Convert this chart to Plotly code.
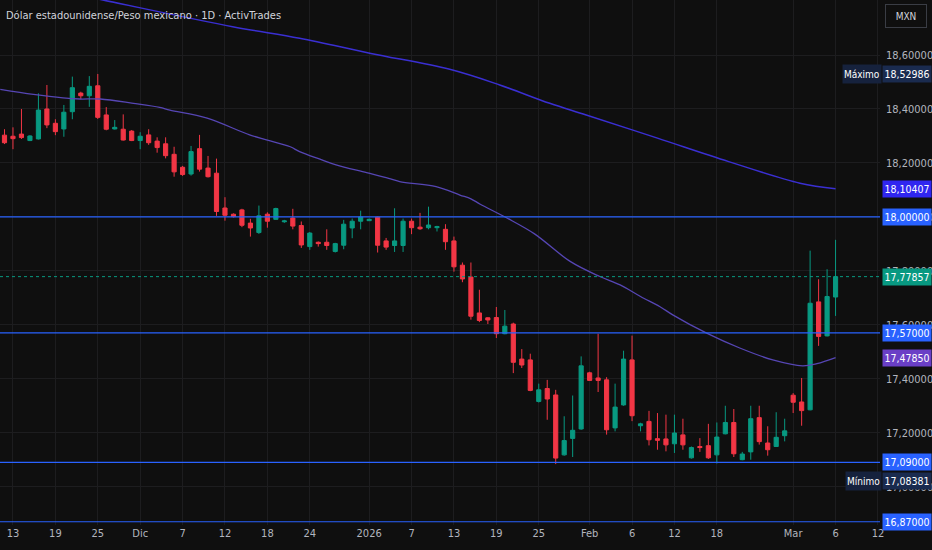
import plotly.graph_objects as go

# daily bars (Sun-Fri), index 0 = 12 Nov 2025, index 98 = 6 Mar 2026
bar_open = [18.303, 18.299, 18.307, 18.283, 18.289, 18.400, 18.347, 18.326, 18.390, 18.459,
            18.449, 18.486, 18.378, 18.326, 18.325, 18.318, 18.283, 18.304, 18.281, 18.271,
            18.232, 18.184, 18.159, 18.253, 18.181, 18.162, 18.033, 18.010, 18.026, 17.977,
            17.942, 18.010, 17.991, 17.982, 17.996, 17.968, 17.890, 17.906, 17.906, 17.872,
            17.895, 17.959, 17.984, 17.986, 17.999, 17.911, 17.894, 17.894, 17.984, 17.962,
            17.960, 17.960, 17.954, 17.911, 17.821, 17.777, 17.644, 17.626, 17.627, 17.567,
            17.603, 17.473, 17.470, 17.316, 17.364, 17.340, 17.118, 17.179, 17.214, 17.422,
            17.403, 17.396, 17.218, 17.303, 17.470, 17.226, 17.242, 17.178, 17.177, 17.159,
            17.192, 17.107, 17.149, 17.152, 17.118, 17.196, 17.238, 17.100, 17.129, 17.256,
            17.162, 17.149, 17.189, 17.339, 17.314, 17.285, 17.685, 17.559, 17.703]
bar_high = [18.325, 18.332, 18.400, 18.303, 18.458, 18.489, 18.362, 18.415, 18.520, 18.464,
            18.522, 18.52986, 18.407, 18.359, 18.380, 18.322, 18.314, 18.325, 18.295, 18.295,
            18.260, 18.189, 18.263, 18.304, 18.226, 18.216, 18.073, 18.013, 18.030, 17.993,
            18.042, 18.017, 18.034, 17.989, 18.030, 17.983, 17.944, 17.909, 17.954, 17.904,
            17.989, 17.994, 18.023, 17.994, 18.001, 17.922, 18.032, 17.994, 17.994, 18.015,
            18.038, 17.967, 17.973, 17.927, 17.831, 17.831, 17.730, 17.628, 17.666, 17.655,
            17.608, 17.510, 17.493, 17.382, 17.396, 17.359, 17.261, 17.338, 17.483, 17.426,
            17.567, 17.406, 17.382, 17.504, 17.560, 17.237, 17.281, 17.273, 17.267, 17.267,
            17.252, 17.149, 17.180, 17.233, 17.238, 17.300, 17.288, 17.129, 17.300, 17.300,
            17.224, 17.276, 17.252, 17.347, 17.403, 17.875, 17.769, 17.806, 17.915]
bar_low = [18.270, 18.251, 18.289, 18.281, 18.287, 18.329, 18.303, 18.297, 18.362, 18.436,
           18.408, 18.363, 18.321, 18.324, 18.283, 18.281, 18.251, 18.267, 18.238, 18.217,
           18.149, 18.152, 18.153, 18.168, 18.146, 18.004, 17.986, 17.998, 17.962, 17.927,
           17.937, 17.960, 17.989, 17.978, 17.954, 17.885, 17.878, 17.890, 17.878, 17.868,
           17.880, 17.921, 17.954, 17.986, 17.868, 17.878, 17.870, 17.870, 17.936, 17.952,
           17.954, 17.946, 17.878, 17.797, 17.758, 17.619, 17.610, 17.603, 17.551, 17.565,
           17.421, 17.440, 17.354, 17.312, 17.248, 17.08381, 17.115, 17.110, 17.211, 17.393,
           17.351, 17.193, 17.205, 17.300, 17.243, 17.205, 17.153, 17.137, 17.131, 17.125,
           17.137, 17.104, 17.129, 17.103, 17.086, 17.194, 17.110, 17.098, 17.100, 17.156,
           17.115, 17.148, 17.168, 17.273, 17.226, 17.283, 17.522, 17.557, 17.633]
bar_close = [18.275, 18.290, 18.294, 18.300, 18.396, 18.341, 18.316, 18.388, 18.479, 18.449,
             18.484, 18.369, 18.325, 18.332, 18.285, 18.283, 18.299, 18.275, 18.257, 18.227,
             18.167, 18.157, 18.242, 18.177, 18.149, 18.020, 18.006, 18.001, 17.969, 17.959,
             18.004, 17.984, 18.031, 17.985, 17.966, 17.896, 17.940, 17.901, 17.894, 17.901,
             17.973, 17.984, 18.000, 17.991, 17.895, 17.888, 17.911, 17.984, 17.960, 17.956,
             17.970, 17.964, 17.908, 17.815, 17.770, 17.632, 17.616, 17.618, 17.567, 17.595,
             17.461, 17.451, 17.357, 17.359, 17.325, 17.106, 17.171, 17.209, 17.448, 17.394,
             17.394, 17.211, 17.295, 17.473, 17.263, 17.233, 17.174, 17.172, 17.155, 17.199,
             17.155, 17.145, 17.145, 17.107, 17.184, 17.238, 17.122, 17.121, 17.252, 17.167,
             17.137, 17.183, 17.207, 17.313, 17.282, 17.680, 17.557, 17.705, 17.77857]
bar_index = list(range(len(bar_close)))

# moving averages, points (bar index, price)
ma_fast_idx = [-0.5, 3.4, 6.9, 8.9, 11.3, 15.2, 18.3, 19.5, 23.9, 28.9, 31.0, 33.7, 34.8,
               37.2, 39.1, 42.7, 45.3, 46.6, 50.9, 53.7, 55.0, 56.1, 59.3, 62.5, 66.7,
               70.2, 72.6, 75.0, 77.3, 78.8, 82.8, 86.7, 90.6, 94.1, 95.8, 98.0]
ma_fast_val = [18.473, 18.454, 18.441, 18.437, 18.437, 18.421, 18.406, 18.396, 18.366, 18.304,
               18.285, 18.260, 18.242, 18.214, 18.193, 18.164, 18.143, 18.131, 18.112, 18.081,
               18.067, 18.047, 17.995, 17.937, 17.835, 17.779, 17.748, 17.705, 17.667, 17.637,
               17.569, 17.514, 17.470, 17.448, 17.456, 17.4785]
ma_slow_idx = [0.0, 11.6, 26.9, 34.8, 43.2, 52.5, 58.4, 64.3, 68.6, 77.0, 85.4, 93.8, 98.0]
ma_slow_val = [18.880, 18.804, 18.705, 18.662, 18.606, 18.547, 18.489, 18.421, 18.378, 18.292,
               18.205, 18.125, 18.10407]

# horizontal levels drawn on the chart
level_values = [18.0, 17.57, 17.09, 16.87]
price_max = 18.52986
price_min = 17.08381

tick_idx = [1, 6, 11, 16, 21, 26, 31, 36, 43, 48, 53, 58, 63, 69, 74, 79, 84, 93, 98, 103]
tick_text = ["13", "19", "25", "Dic", "7", "12", "18", "24", "2026", "7", "13", "19", "25",
             "Feb", "6", "12", "18", "Mar", "6", "12"]
price_ticks = [17.0, 17.2, 17.4, 17.6, 17.8, 18.0, 18.2, 18.4, 18.6]

BG = "#0f0f0f"
GRID = "#1d1d1f"
TXT = "#b2b5be"
UP = "#089981"
DOWN = "#f23645"
LEVEL = "#2962ff"
FONT = "DejaVu Sans Condensed, Liberation Sans Narrow, Roboto, sans-serif"


def fmt(v):
    return f"{v:.5f}".replace(".", ",")


fig = go.Figure()

fig.add_trace(go.Scatter(x=ma_slow_idx, y=ma_slow_val, mode="lines",
                         line=dict(color="#3a2fd2", width=1.5, shape="spline"),
                         hoverinfo="skip"))
fig.add_trace(go.Scatter(x=ma_fast_idx, y=ma_fast_val, mode="lines",
                         line=dict(color="#5646b4", width=1.3, shape="spline"),
                         hoverinfo="skip"))

fig.add_trace(go.Candlestick(
    x=bar_index, open=bar_open, high=bar_high, low=bar_low, close=bar_close,
    increasing=dict(line=dict(color=UP, width=1), fillcolor=UP),
    decreasing=dict(line=dict(color=DOWN, width=1), fillcolor=DOWN),
    whiskerwidth=0,
))

for v in level_values:
    fig.add_shape(type="line", xref="paper", x0=0, x1=1, yref="y", y0=v, y1=v,
                  line=dict(color=LEVEL, width=1.2))
fig.add_shape(type="line", xref="paper", x0=0, x1=1, yref="y",
              y0=bar_close[-1], y1=bar_close[-1],
              line=dict(color=UP, width=1, dash="dot"))

fig.update_layout(
    width=932, height=550,
    paper_bgcolor=BG, plot_bgcolor=BG,
    margin=dict(l=0, r=52, t=0, b=25),
    showlegend=False,
    font=dict(family=FONT, color=TXT, size=11),
    xaxis=dict(range=[-0.53, 103.24], tickvals=tick_idx, ticktext=tick_text,
               showgrid=True, gridcolor=GRID, gridwidth=1, zeroline=False,
               showline=False, ticks="", rangeslider=dict(visible=False),
               tickfont=dict(size=11, color=TXT, family=FONT)),
    yaxis=dict(range=[16.858, 18.804], side="right", tickvals=price_ticks,
               ticktext=[fmt(v) for v in price_ticks], showgrid=True,
               gridcolor=GRID, zeroline=False, showline=False, ticks="",
               ticklabelstandoff=5, tickfont=dict(size=11, color=TXT, family=FONT)),
)

labels = [
    (price_max, fmt(price_max), "#1a2b4f", 0),
    (ma_slow_val[-1], fmt(ma_slow_val[-1]), "#3026f0", 0),
    (level_values[0], fmt(level_values[0]), LEVEL, 0),
    (bar_close[-1], fmt(bar_close[-1]), UP, 0),
    (level_values[1], fmt(level_values[1]), LEVEL, 0),
    (ma_fast_val[-1], fmt(ma_fast_val[-1]), "#6a3fc6", 0),
    (level_values[2], fmt(level_values[2]), LEVEL, 0),
    (price_min, fmt(price_min), "#1a2b4f", -17),
    (level_values[3], fmt(level_values[3]), LEVEL, 0),
]
for y, text, color, shift in labels:
    fig.add_annotation(x=1, xref="paper", xanchor="left", xshift=2, y=y, yref="y",
                       yshift=shift, text=text, showarrow=False, bgcolor=color,
                       width=48, height=16, borderpad=0,
                       font=dict(color="#ffffff", size=10.5, family=FONT))

for y, text, shift in [(price_max, "Máximo", 0), (price_min, "Mínimo", -17)]:
    fig.add_annotation(x=1, xref="paper", xanchor="right", xshift=2, y=y, yref="y",
                       yshift=shift, text=text, showarrow=False, bgcolor="#16223d",
                       height=16, borderpad=1,
                       font=dict(color="#ffffff", size=10, family=FONT))

fig.add_annotation(x=0, xref="paper", xanchor="left", xshift=4, y=1, yref="paper",
                   yanchor="top", yshift=-7, showarrow=False,
                   text="Dólar estadounidense/Peso mexicano · 1D · ActivTrades",
                   font=dict(color="#d1d4dc", size=11, family=FONT))

fig.add_annotation(x=1, xref="paper", xanchor="left", xshift=5, y=1, yref="paper",
                   yanchor="top", yshift=-4, showarrow=False, text="MXN",
                   width=38, height=20, bordercolor="#3a3d45", borderwidth=1,
                   font=dict(color="#d1d4dc", size=10, family=FONT))

fig.write_html("out.html", config={"displayModeBar": False},
               post_script="document.body.style.margin='0';document.body.style.overflow='hidden';")
